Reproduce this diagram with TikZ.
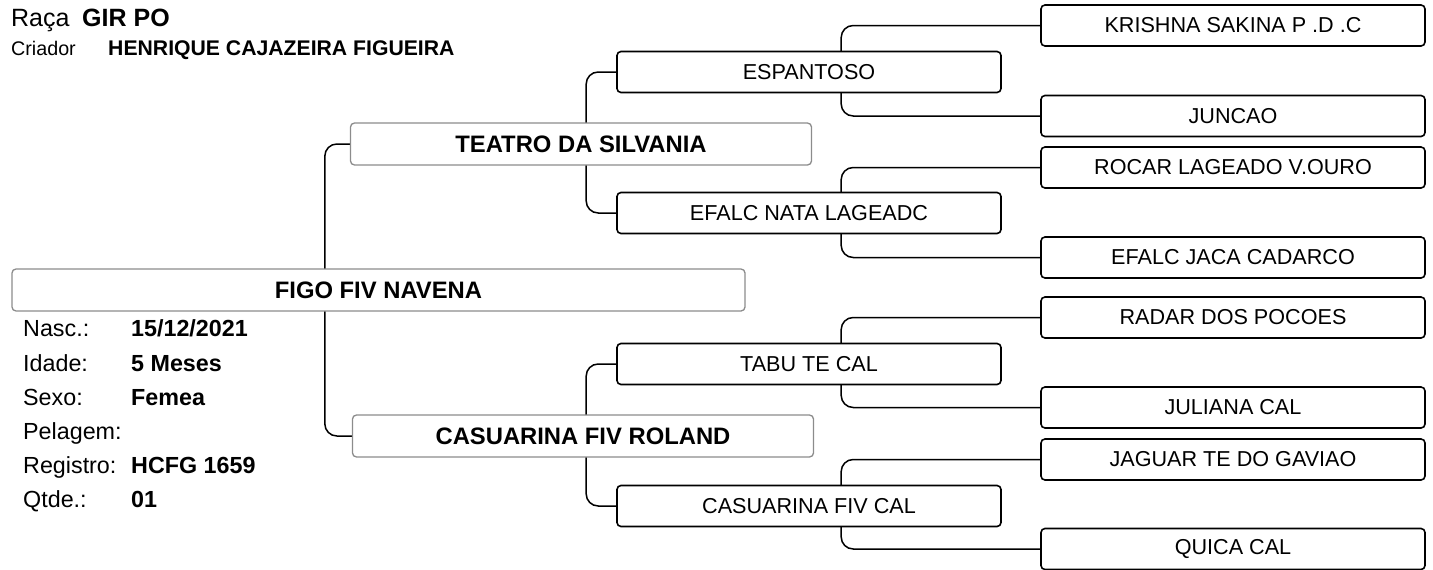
\documentclass[tikz,border=0pt]{standalone}
\usepackage{fontspec}
\setmainfont{Liberation Sans}
\usetikzlibrary{positioning,backgrounds}
\tikzset{bigbox/.style={draw=black!45, fill=white, line width=1.3pt, rounded corners=4pt, minimum width=461pt, minimum height=42pt, inner sep=0pt, font=\fontsize{23.8}{28}\selectfont\bfseries},
namebox/.style={draw=black, fill=white, line width=1.6pt, rounded corners=4pt, minimum width=384pt, minimum height=41pt, inner sep=0pt, font=\fontsize{21.6}{25}\selectfont},
treeline/.style={line width=1.5pt, rounded corners=12pt},
infolabel/.style={anchor=base west, inner sep=0pt, font=\fontsize{23.3}{27}\selectfont},
infovalue/.style={infolabel, font=\fontsize{23.3}{27}\selectfont\bfseries},}

\begin{document}
\begin{tikzpicture}[x=1pt, y=-1pt]
\useasboundingbox (0,0) rectangle (1433,570);
\node [infolabel, font=\fontsize{25}{29}\selectfont] (raca) at (11,27) {Raça};
\node [infovalue, font=\fontsize{25}{29}\selectfont\bfseries] (racaval) at (82,27) {GIR PO};
\node [infolabel, font=\fontsize{19.7}{23}\selectfont] (criador) at (11,55) {Criador};
\node [infovalue, font=\fontsize{21.2}{25}\selectfont\bfseries] (criadorval) at (108,55) {HENRIQUE CAJAZEIRA FIGUEIRA};
\node [bigbox, minimum width=733pt] (figo) at (378.5,290) {FIGO FIV NAVENA};
\node [infolabel] (nasc) at (23,336) {Nasc.:};
\node [infolabel] (idade) at (23,371) {Idade:};
\node [infolabel] (sexo) at (23,405) {Sexo:};
\node [infolabel] (pelagem) at (23,439) {Pelagem:};
\node [infolabel] (registro) at (23,473) {Registro:};
\node [infolabel] (qtde) at (23,507) {Qtde.:};
\node [infovalue] (nascval) at (131,336) {15/12/2021};
\node [infovalue] (idadeval) at (131,371) {5 Meses};
\node [infovalue] (sexoval) at (131,405) {Femea};
\node [infovalue] (registroval) at (131,473) {HCFG 1659};
\node [infovalue] (qtdeval) at (131,507) {01};
\node [bigbox] (teatro) at (581,144) {TEATRO DA SILVANIA};
\node [bigbox] (casroland) at (583,436) {CASUARINA FIV ROLAND};
\node [namebox] (espantoso) at (809,72) {ESPANTOSO};
\node [namebox] (efalcnata) at (809,213) {EFALC NATA LAGEADC};
\node [namebox] (tabu) at (809,364) {TABU TE CAL};
\node [namebox] (casfivcal) at (809,506) {CASUARINA FIV CAL};
\node [namebox] (krishna) at (1233,25.5) {KRISHNA SAKINA P .D .C};
\node [namebox] (juncao) at (1233,116) {JUNCAO};
\node [namebox] (rocar) at (1233,167.5) {ROCAR LAGEADO V.OURO};
\node [namebox] (efalcjaca) at (1233,257.5) {EFALC JACA CADARCO};
\node [namebox] (radar) at (1233,317.5) {RADAR DOS POCOES};
\node [namebox] (juliana) at (1233,407.5) {JULIANA CAL};
\node [namebox] (jaguar) at (1233,459.5) {JAGUAR TE DO GAVIAO};
\node [namebox] (quica) at (1233,549) {QUICA CAL};
\begin{scope}[on background layer]
\draw[treeline] (teatro.west) -- ++(-25,0) |- (casroland.west);
\draw[treeline] (espantoso.west) -- ++(-30,0) |- (efalcnata.west);
\draw[treeline] (tabu.west) -- ++(-30,0) |- (casfivcal.west);
\draw[treeline] (krishna.west) -- ++(-199,0) |- (juncao.west);
\draw[treeline] (rocar.west) -- ++(-199,0) |- (efalcjaca.west);
\draw[treeline] (radar.west) -- ++(-199,0) |- (juliana.west);
\draw[treeline] (jaguar.west) -- ++(-199,0) |- (quica.west);
\end{scope}
\end{tikzpicture}
\end{document}
